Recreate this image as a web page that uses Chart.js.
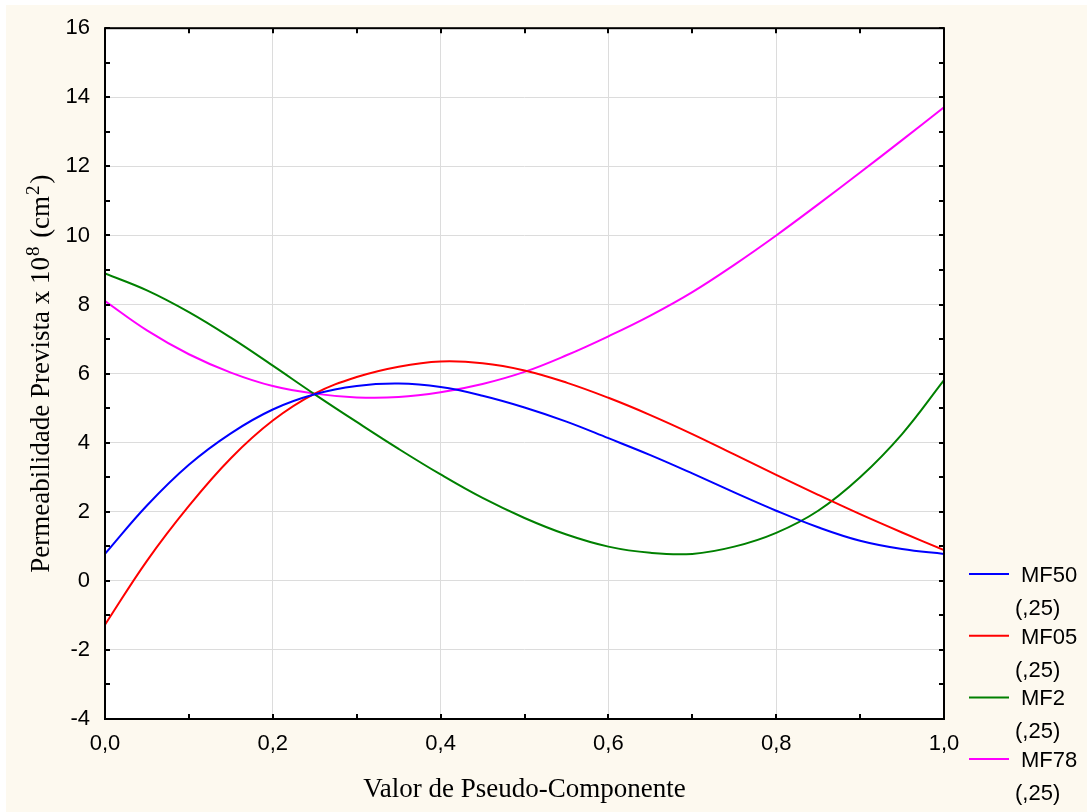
<!DOCTYPE html>
<html>
<head>
<meta charset="utf-8">
<script src="https://cdn.jsdelivr.net/npm/chart.js@4.4.0/dist/chart.umd.min.js"></script>
<style>
  html, body { margin: 0; padding: 0; background: #fff; }
  #wrap { width: 1087px; height: 812px; }
</style>
</head>
<body>
<div id="wrap"><canvas id="permChart" width="1087" height="812"></canvas></div>
<script>
(function () {
  "use strict";

  // values
  var xValues = [0, 0.05, 0.1, 0.15, 0.2, 0.25, 0.3, 0.35, 0.4, 0.45, 0.5,
                 0.55, 0.6, 0.65, 0.7, 0.75, 0.8, 0.85, 0.9, 0.95, 1];
  var mf50 = [0.78, 2.18, 3.36, 4.27, 4.96, 5.40, 5.64, 5.71, 5.61, 5.36, 5.02,
              4.61, 4.13, 3.64, 3.11, 2.56, 2.03, 1.55, 1.16, 0.92, 0.78];
  var mf05 = [-1.27, 0.58, 2.17, 3.55, 4.64, 5.42, 5.90, 6.20, 6.35, 6.30, 6.09,
              5.74, 5.30, 4.80, 4.25, 3.66, 3.07, 2.49, 1.93, 1.40, 0.89];
  var mf2 = [8.90, 8.41, 7.78, 7.04, 6.23, 5.40, 4.60, 3.82, 3.08, 2.40, 1.82,
             1.34, 0.99, 0.81, 0.78, 0.99, 1.39, 2.03, 3.00, 4.25, 5.81];
  var mf78 = [8.10, 7.25, 6.56, 6.03, 5.64, 5.42, 5.31, 5.32, 5.46, 5.70, 6.05,
              6.53, 7.08, 7.68, 8.36, 9.15, 10.00, 10.90, 11.82, 12.76, 13.71];

  var seriesNames = ["MF50", "MF05", "MF2", "MF78"];
  var seriesNote = "(,25)";
  var seriesColors = ["#0000ff", "#ff0000", "#008000", "#ff00ff"];

  var xTitle = "Valor de Pseudo-Componente";
  var yTitleParts = [
    { text: "Permeabilidade Prevista x 10", sup: false },
    { text: "8", sup: true },
    { text: " (cm", sup: false },
    { text: "2", sup: true },
    { text: ")", sup: false }
  ];

  var SANS = "'Liberation Sans', Arial, Helvetica, sans-serif";
  var SERIF = "'Liberation Serif', 'Times New Roman', serif";

  function toPoints(ys) {
    return xValues.map(function (x, i) { return { x: x, y: ys[i] }; });
  }

  var datasets = [mf50, mf05, mf2, mf78].map(function (ys, i) {
    return {
      label: seriesNames[i],
      data: toPoints(ys),
      borderColor: seriesColors[i],
      backgroundColor: seriesColors[i],
      borderWidth: 2,
      pointRadius: 0,
      tension: 0.4,
      fill: false
    };
  });

  var decor = {
    id: "decor",
    beforeDraw: function (chart) {
      var ctx = chart.ctx, a = chart.chartArea;
      ctx.save();
      ctx.fillStyle = "#ffffff";
      ctx.fillRect(0, 0, chart.width, chart.height);
      ctx.fillStyle = "#fdf9ef";
      ctx.fillRect(6, 5, chart.width - 6, chart.height - 5);
      ctx.fillStyle = "#ffffff";
      ctx.fillRect(a.left, a.top, a.right - a.left, a.bottom - a.top);
      ctx.restore();
    },
    afterDatasetsDraw: function (chart) {
      var ctx = chart.ctx, a = chart.chartArea;
      var xs = chart.scales.x, ys = chart.scales.y;
      var k, p;
      ctx.save();
      ctx.strokeStyle = "#000";
      ctx.lineWidth = 2;
      ctx.strokeRect(a.left, a.top, a.right - a.left, a.bottom - a.top);
      ctx.beginPath();
      for (k = 0; k <= 10; k++) {
        p = Math.round(xs.getPixelForValue(k / 10));
        ctx.moveTo(p, a.bottom); ctx.lineTo(p, a.bottom - 5);
        ctx.moveTo(p, a.top); ctx.lineTo(p, a.top + 5);
      }
      for (k = -4; k <= 16; k++) {
        p = Math.round(ys.getPixelForValue(k));
        ctx.moveTo(a.left, p); ctx.lineTo(a.left + 5, p);
        ctx.moveTo(a.right, p); ctx.lineTo(a.right - 5, p);
      }
      ctx.stroke();
      ctx.restore();
    },
    afterDraw: function (chart) {
      var ctx = chart.ctx, a = chart.chartArea;
      ctx.save();
      // legend
      chart.data.datasets.forEach(function (ds, i) {
        var y = 574 + i * 61.7;
        ctx.strokeStyle = ds.borderColor;
        ctx.lineWidth = 2;
        ctx.beginPath();
        ctx.moveTo(969, y);
        ctx.lineTo(1009, y);
        ctx.stroke();
        ctx.fillStyle = "#000";
        ctx.font = "22px " + SANS;
        ctx.textBaseline = "middle";
        ctx.textAlign = "left";
        ctx.fillText(ds.label, 1021, y + 2);
        ctx.fillText(seriesNote, 1015, y + 35);
      });
      // y title with superscripts
      var big = "27px " + SERIF, small = "19px " + SERIF;
      var total = 0;
      yTitleParts.forEach(function (p) {
        ctx.font = p.sup ? small : big;
        p.w = ctx.measureText(p.text).width + (p.sup ? 3 : 0);
        total += p.w;
      });
      ctx.translate(49, (a.top + a.bottom) / 2);
      ctx.rotate(-Math.PI / 2);
      ctx.fillStyle = "#000";
      ctx.textBaseline = "alphabetic";
      ctx.textAlign = "left";
      var pos = -total / 2;
      yTitleParts.forEach(function (p) {
        ctx.font = p.sup ? small : big;
        ctx.fillText(p.text, pos + (p.sup ? 1 : 0), p.sup ? -10 : 0);
        pos += p.w;
      });
      ctx.restore();
    }
  };

  new Chart(document.getElementById("permChart").getContext("2d"), {
    type: "line",
    data: { datasets: datasets },
    plugins: [decor],
    options: {
      responsive: false,
      animation: false,
      layout: { padding: { top: 26, right: 143, bottom: 0, left: 0 } },
      plugins: {
        legend: { display: false },
        tooltip: { enabled: false }
      },
      scales: {
        x: {
          type: "linear",
          min: 0,
          max: 1,
          afterFit: function (s) { s.height = 93; },
          ticks: {
            stepSize: 0.2,
            padding: 12,
            color: "#000",
            font: { family: SANS, size: 22 },
            callback: function (v) { return v.toFixed(1).replace(".", ","); }
          },
          grid: { color: "#dcdcdc", lineWidth: 1, drawTicks: false },
          border: { display: false },
          title: {
            display: true,
            text: xTitle,
            color: "#000",
            font: { family: SERIF, size: 27 },
            padding: { top: 0, bottom: 6 }
          }
        },
        y: {
          min: -4,
          max: 16,
          afterFit: function (s) { s.width = 105; },
          ticks: {
            stepSize: 2,
            padding: 15,
            color: "#000",
            font: { family: SANS, size: 22 },
            callback: function (v) { return String(v); }
          },
          grid: { color: "#dcdcdc", lineWidth: 1, drawTicks: false },
          border: { display: false }
        }
      }
    }
  });
})();
</script>
</body>
</html>
